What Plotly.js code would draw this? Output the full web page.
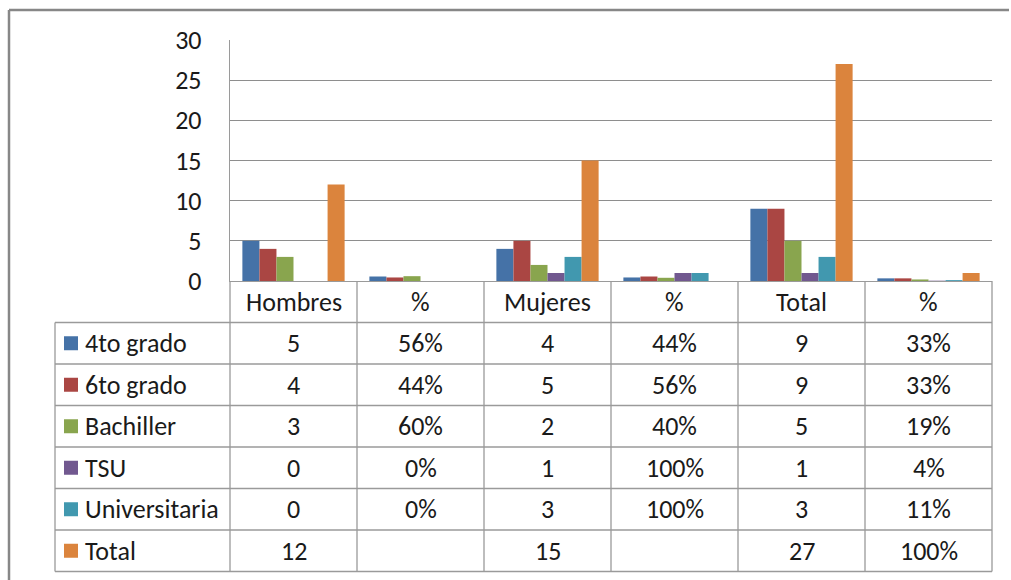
<!DOCTYPE html>
<html>
<head>
<meta charset="utf-8">
<script src="https://cdn.plot.ly/plotly-3.0.1.min.js"></script>
<style>html,body{margin:0;padding:0;background:#fff;overflow:hidden;}#chart{width:1011px;height:580px;overflow:hidden;}</style>
</head>
<body>
<div id="chart"></div>
<script>
// ---- data ----
const columns = ["Hombres", "%", "Mujeres", "%", "Total", "%"];
const isPercent = [false, true, false, true, false, true];
const seriesNames = ["4to grado", "6to grado", "Bachiller", "TSU", "Universitaria", "Total"];
const cuartoGrado   = [5, 0.56, 4, 0.44, 9, 0.33];
const sextoGrado    = [4, 0.44, 5, 0.56, 9, 0.33];
const bachiller     = [3, 0.60, 2, 0.40, 5, 0.19];
const tsu           = [0, 0.00, 1, 1.00, 1, 0.04];
const universitaria = [0, 0.00, 3, 1.00, 3, 0.11];
const totalRow      = [12, null, 15, null, 27, 1.00];
const seriesValues = [cuartoGrado, sextoGrado, bachiller, tsu, universitaria, totalRow];
const seriesColors = ["#4572A7", "#AA4643", "#89A54E", "#71588F", "#4198AF", "#DB843D"];

// ---- geometry (pixels in a 1011x580 page) ----
const W = 1011, H = 580;
const plotL = 230, plotR = 992, plotT = 40, plotB = 281;
const tableLeft = 55, rowH = 41.5;
const pw = plotR - plotL, ph = plotB - plotT;
const px = x => (x - plotL) / pw;
const py = y => (plotB - y) / ph;
const FONT = "Carlito, 'Open Sans', sans-serif";
const FS = 26;
const TXT = "#1a1a1a";
const LINE = "#9a9a9a";

const xs = columns.map((_, i) => i);
const traces = seriesNames.map((name, s) => ({
  type: "bar", name: name, x: xs, y: seriesValues[s],
  marker: {color: seriesColors[s], line: {width: 0}},
  hoverinfo: "skip", showlegend: false
}));

const shapes = [];
const annotations = [];
const nRows = seriesNames.length + 1;
const tableBottom = plotB + rowH * nRows;
// horizontal table lines
for (let i = 1; i <= nRows; i++) {
  const y = plotB + rowH * i;
  shapes.push({type: "line", xref: "paper", yref: "paper", x0: px(tableLeft), x1: px(plotR), y0: py(y), y1: py(y), line: {color: LINE, width: 1.3}});
}
// vertical table lines
shapes.push({type: "line", xref: "paper", yref: "paper", x0: px(tableLeft), x1: px(tableLeft), y0: py(plotB + rowH), y1: py(tableBottom), line: {color: LINE, width: 1.3}});
for (let k = 0; k <= columns.length; k++) {
  const x = plotL + pw / columns.length * k;
  shapes.push({type: "line", xref: "paper", yref: "paper", x0: px(x), x1: px(x), y0: py(plotB), y1: py(tableBottom), line: {color: LINE, width: 1.3}});
}
// outer chart border (top and left only visible)
shapes.push({type: "line", xref: "paper", yref: "paper", x0: px(9), x1: px(1009), y0: py(10), y1: py(10), line: {color: "#878787", width: 2.5}});
shapes.push({type: "line", xref: "paper", yref: "paper", x0: px(9), x1: px(9), y0: py(10), y1: py(580), line: {color: "#878787", width: 2.5}});

// header row
columns.forEach((c, i) => {
  annotations.push({xref: "x", yref: "paper", x: i, y: py(plotB + rowH / 2), text: c, showarrow: false,
    xanchor: "center", yanchor: "middle", font: {family: FONT, size: FS, color: TXT}});
});
// body rows
seriesNames.forEach((name, s) => {
  const yc = plotB + rowH * (s + 1.5);
  shapes.push({type: "rect", xref: "paper", yref: "paper", x0: px(64), x1: px(78), y0: py(yc - 7), y1: py(yc + 7),
    fillcolor: seriesColors[s], line: {width: 0}});
  annotations.push({xref: "paper", yref: "paper", x: px(83), y: py(yc), text: name, showarrow: false,
    xanchor: "left", yanchor: "middle", font: {family: FONT, size: FS, color: TXT}});
  seriesValues[s].forEach((v, i) => {
    if (v === null) return;
    const t = isPercent[i] ? Math.round(v * 100) + "%" : String(v);
    annotations.push({xref: "x", yref: "paper", x: i, y: py(yc), text: t, showarrow: false,
      xanchor: "center", yanchor: "middle", font: {family: FONT, size: FS, color: TXT}});
  });
});

const layout = {
  width: W, height: H,
  margin: {l: plotL, r: W - plotR, t: plotT, b: H - plotB, pad: 0},
  paper_bgcolor: "#ffffff", plot_bgcolor: "#ffffff",
  barmode: "group", bargap: 0.195, bargroupgap: 0,
  showlegend: false,
  xaxis: {range: [-0.5, columns.length - 0.5], showticklabels: false, showgrid: false, zeroline: false,
    showline: true, linecolor: LINE, linewidth: 1.3, ticks: "", fixedrange: true},
  yaxis: {range: [0, 30], dtick: 5, tick0: 0, showgrid: true, gridcolor: "#8e8e8e", gridwidth: 1.2,
    zeroline: false, showline: true, linecolor: LINE, linewidth: 1.3,
    ticks: "outside", ticklen: 22, tickcolor: "rgba(0,0,0,0)",
    tickfont: {family: FONT, size: FS, color: TXT}, fixedrange: true},
  shapes: shapes, annotations: annotations
};
Plotly.newPlot("chart", traces, layout, {displayModeBar: false, staticPlot: true});
</script>
</body>
</html>
